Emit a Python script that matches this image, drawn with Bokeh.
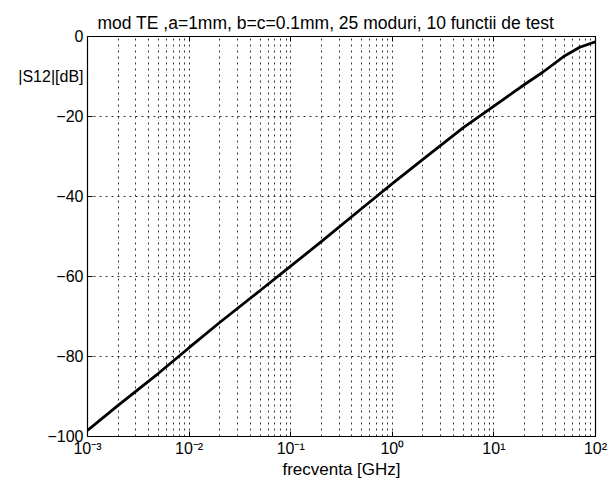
from bokeh.plotting import figure
from bokeh.models import (Range1d, FixedTicker, CustomJSTickFormatter,
                          LinearAxis, LogAxis)
from bokeh.embed import file_html
from bokeh.resources import INLINE

# |S12| versus frequency (TE mode, 25 modes, 10 test functions)
freq_ghz = [0.001, 0.002, 0.005, 0.01, 0.02, 0.05, 0.1, 0.2, 0.5,
            1.0, 2.0, 5.0, 10.0, 20.0, 30.0, 50.0, 70.0, 100.0]
s12_db = [-98.5, -92.2, -84.2, -77.8, -71.5, -63.5, -57.4, -51.3, -43.0,
          -36.8, -30.7, -22.8, -17.4, -12.0, -9.0, -4.8, -2.7, -1.3]

x_major = [1e-3, 1e-2, 1e-1, 1e0, 1e1, 1e2]
x_minor = [k * 10.0 ** d for d in range(-3, 2) for k in range(2, 10)]
y_major = [-100, -80, -60, -40, -20, 0]

title_text = "mod TE ,a=1mm, b=c=0.1mm, 25 moduri, 10 functii de test"
x_label_text = "frecventa [GHz]"
y_label_text = "|S12|[dB]"
y_label_at = -10

FONT = "Liberation Sans"

p = figure(width=608, height=493, x_axis_type="log",
           x_range=Range1d(1e-3, 1e2), y_range=Range1d(-100, 0),
           output_backend="svg", toolbar_location=None,
           min_border_left=87, min_border_right=13,
           min_border_top=36, min_border_bottom=57)
p.background_fill_color = "white"
p.border_fill_color = "white"
p.outline_line_color = "black"
p.outline_line_width = 1.2

p.title.text = title_text
p.title.align = "left"
p.title.offset = 10
p.title.standoff = 8
p.title.text_font = FONT
p.title.text_font_size = "17.5px"
p.title.text_font_style = "normal"
p.title.text_color = "black"

xt = FixedTicker(ticks=x_major, minor_ticks=x_minor)
yt = FixedTicker(ticks=y_major)

sup_fmt = CustomJSTickFormatter(code="""
    const e = Math.round(Math.log10(tick));
    const sup = {'-': '\\u207b', '0': '\\u2070', '1': '\\u00b9', '2': '\\u00b2',
                 '3': '\\u00b3'};
    return '10' + String(e).split('').map(c => sup[c]).join('');
""")

TICKS_ONLY = dict(major_label_text_font_size="1px", major_label_text_alpha=0,
                  major_label_standoff=0, major_tick_in=5, major_tick_out=0,
                  minor_tick_in=0, minor_tick_out=0, axis_line_color=None,
                  major_tick_line_color="black")

# bottom axis: ticks, decade labels and the axis title
xa = p.xaxis[0]
xa.ticker = xt
xa.formatter = sup_fmt
xa.axis_label = x_label_text
xa.axis_label_text_font = FONT
xa.axis_label_text_font_size = "17px"
xa.axis_label_text_font_style = "normal"
xa.axis_label_text_color = "black"
xa.axis_label_standoff = 0
xa.major_tick_in = 5
xa.major_tick_out = 0
xa.minor_tick_in = 0
xa.minor_tick_out = 0
xa.axis_line_color = None
xa.major_tick_line_color = "black"
xa.major_label_text_font = FONT
xa.major_label_text_font_size = "16px"
xa.major_label_text_color = "black"
xa.major_label_standoff = 3

# left side: inward ticks next to the box, labels (and |S12| caption) outside
ya = p.yaxis[0]
ya.ticker = yt
for k, v in TICKS_ONLY.items():
    setattr(ya, k, v)

ylab = LinearAxis(ticker=FixedTicker(ticks=y_major + [y_label_at]),
                  major_label_overrides={y_label_at: y_label_text},
                  major_tick_in=0, major_tick_out=0, minor_tick_in=0,
                  minor_tick_out=0, major_tick_line_color=None,
                  axis_line_color=None, major_label_text_font=FONT,
                  major_label_text_font_size="16px",
                  major_label_text_color="black", major_label_standoff=4)

top = LogAxis(ticker=xt, **TICKS_ONLY)
right = LinearAxis(ticker=yt, **TICKS_ONLY)
p.add_layout(top, "above")
p.add_layout(right, "right")
p.left = [ya, ylab]

# dotted grid on every decade subdivision
for g in (p.xgrid, p.ygrid):
    g.grid_line_color = "#333333"
    g.grid_line_dash = "2 4"
    g.grid_line_width = 1
p.xgrid.ticker = xt
p.ygrid.ticker = yt
p.xgrid.minor_grid_line_color = "#333333"
p.xgrid.minor_grid_line_dash = "2 4"
p.xgrid.minor_grid_line_width = 1

p.line(freq_ghz, s12_db, line_color="black", line_width=2.8)

open("out.html", "w").write(file_html(p, INLINE))
